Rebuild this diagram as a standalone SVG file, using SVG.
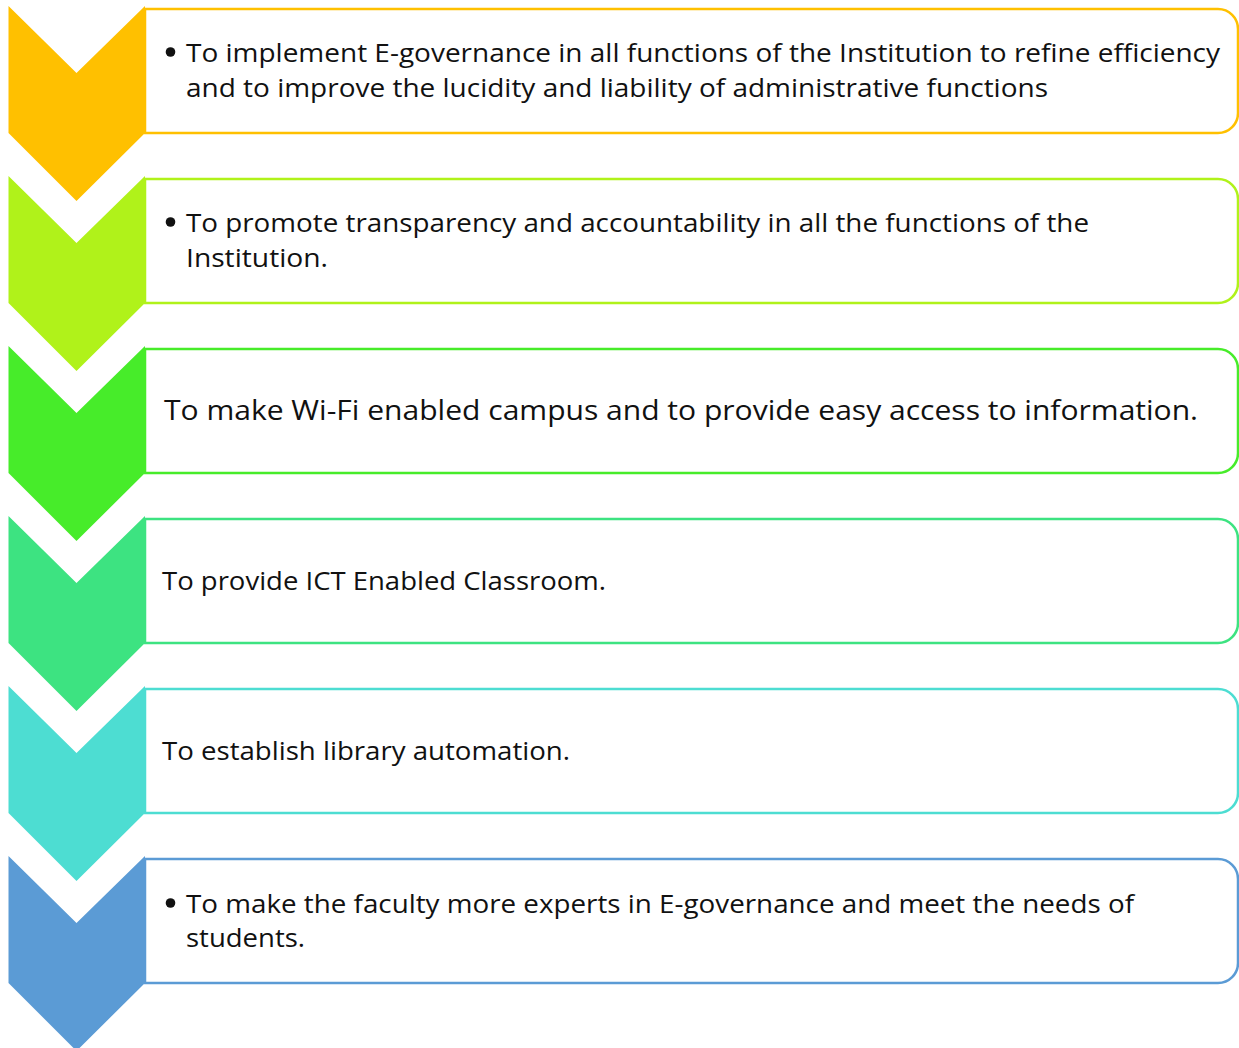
<svg xmlns="http://www.w3.org/2000/svg" width="1239" height="1048" viewBox="0 0 1239 1048">
<style>
.box{fill:#fff;stroke-width:2.5}
.t{font-family:"Open Sans","Liberation Sans",sans-serif;font-size:26px;fill:#111}
.t3{font-family:"Open Sans","Liberation Sans",sans-serif;font-size:28px;fill:#111}
.b{fill:#111}
</style>
<defs>
<path id="chev" d="M8.5,0 L76.5,67 L145,0 V127 L76.5,195 L8.5,127 Z"/>
<path id="rect" d="M145,3 H1218 A20,20 0 0 1 1238,23 V107 A20,20 0 0 1 1218,127 H145 Z"/>
</defs>
<rect width="1239" height="1048" fill="#fff"/>
<g id="node1" transform="translate(0,6)">
<use href="#rect" class="box" stroke="#FFC000"/>
<use href="#chev" fill="#FFC000"/>
<circle class="b" cx="170.5" cy="46" r="4.8"/>
<text class="t" x="186" y="56" textLength="1034" lengthAdjust="spacingAndGlyphs">To implement E-governance in all functions of the Institution to refine efficiency</text>
<text class="t" x="186" y="91" textLength="862" lengthAdjust="spacingAndGlyphs">and to improve the lucidity and liability of administrative functions</text>
</g>
<g id="node2" transform="translate(0,176)">
<use href="#rect" class="box" stroke="#B0F21A"/>
<use href="#chev" fill="#B0F21A"/>
<circle class="b" cx="170.5" cy="46" r="4.8"/>
<text class="t" x="186" y="56" textLength="903" lengthAdjust="spacingAndGlyphs">To promote transparency and accountability in all the functions of the</text>
<text class="t" x="186" y="91" textLength="142" lengthAdjust="spacingAndGlyphs">Institution.</text>
</g>
<g id="node3" transform="translate(0,346)">
<use href="#rect" class="box" stroke="#47EC2A"/>
<use href="#chev" fill="#47EC2A"/>
<text class="t3" x="164" y="74" textLength="1034" lengthAdjust="spacingAndGlyphs">To make Wi-Fi enabled campus and to provide easy access to information.</text>
</g>
<g id="node4" transform="translate(0,516)">
<use href="#rect" class="box" stroke="#3DE381"/>
<use href="#chev" fill="#3DE381"/>
<text class="t" x="162" y="74" textLength="444" lengthAdjust="spacingAndGlyphs">To provide ICT Enabled Classroom.</text>
</g>
<g id="node5" transform="translate(0,686)">
<use href="#rect" class="box" stroke="#4DDDD2"/>
<use href="#chev" fill="#4DDDD2"/>
<text class="t" x="162" y="74" textLength="408" lengthAdjust="spacingAndGlyphs">To establish library automation.</text>
</g>
<g id="node6" transform="translate(0,856)">
<use href="#rect" class="box" stroke="#5B9BD5"/>
<use href="#chev" fill="#5B9BD5"/>
<circle class="b" cx="170.5" cy="47" r="4.8"/>
<text class="t" x="186" y="57" textLength="948" lengthAdjust="spacingAndGlyphs">To make the faculty more experts in E-governance and meet the needs of</text>
<text class="t" x="186" y="91" textLength="119" lengthAdjust="spacingAndGlyphs">students.</text>
</g>
<g id="connectors"></g>
</svg>
